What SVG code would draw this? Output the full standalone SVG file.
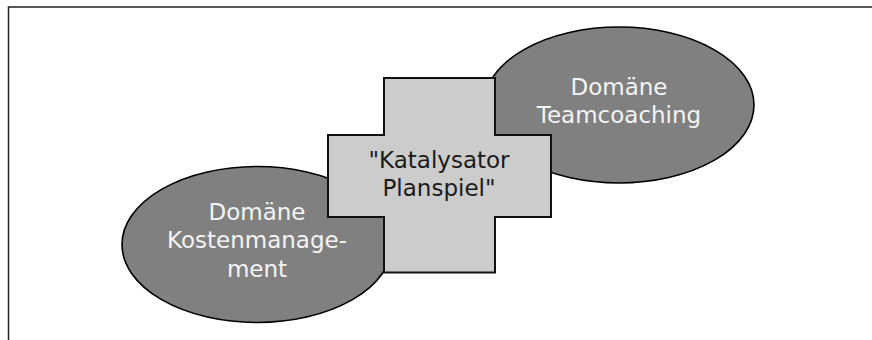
<svg xmlns="http://www.w3.org/2000/svg" width="872" height="340" viewBox="0 0 872 340">
<style>
.dom{fill:#808080;stroke:#000;stroke-width:1.6}
.cross{fill:#cccccc;stroke:#111;stroke-width:2}
.t{font-family:"DejaVu Sans",sans-serif;font-size:23px;text-anchor:middle}
.w{fill:#f4f4f4}
.d{fill:#1a1a1a}
</style>
<rect width="872" height="340" fill="#fff"/>
<g id="frame" fill="none" stroke="#222" stroke-width="1.5">
<path d="M8.5 340 V7 H872"/>
</g>
<g id="connectors"></g>
<g id="team">
<ellipse class="dom" cx="619" cy="105" rx="135" ry="78"/>
<text class="t w" x="619" y="95">Domäne</text>
<text class="t w" x="619" y="123">Teamcoaching</text>
</g>
<g id="kosten">
<ellipse class="dom" cx="257" cy="244.5" rx="135" ry="78"/>
<text class="t w" x="257" y="220">Domäne</text>
<text class="t w" x="257" y="248">Kostenmanage-</text>
<text class="t w" x="257" y="276.5">ment</text>
</g>
<g id="katalysator">
<path class="cross" d="M384 78 H495 V135 H551 V217 H495 V272.5 H384 V217 H328 V135 H384 Z"/>
<text class="t d" x="439" y="168">"Katalysator</text>
<text class="t d" x="439" y="196">Planspiel"</text>
</g>
</svg>
